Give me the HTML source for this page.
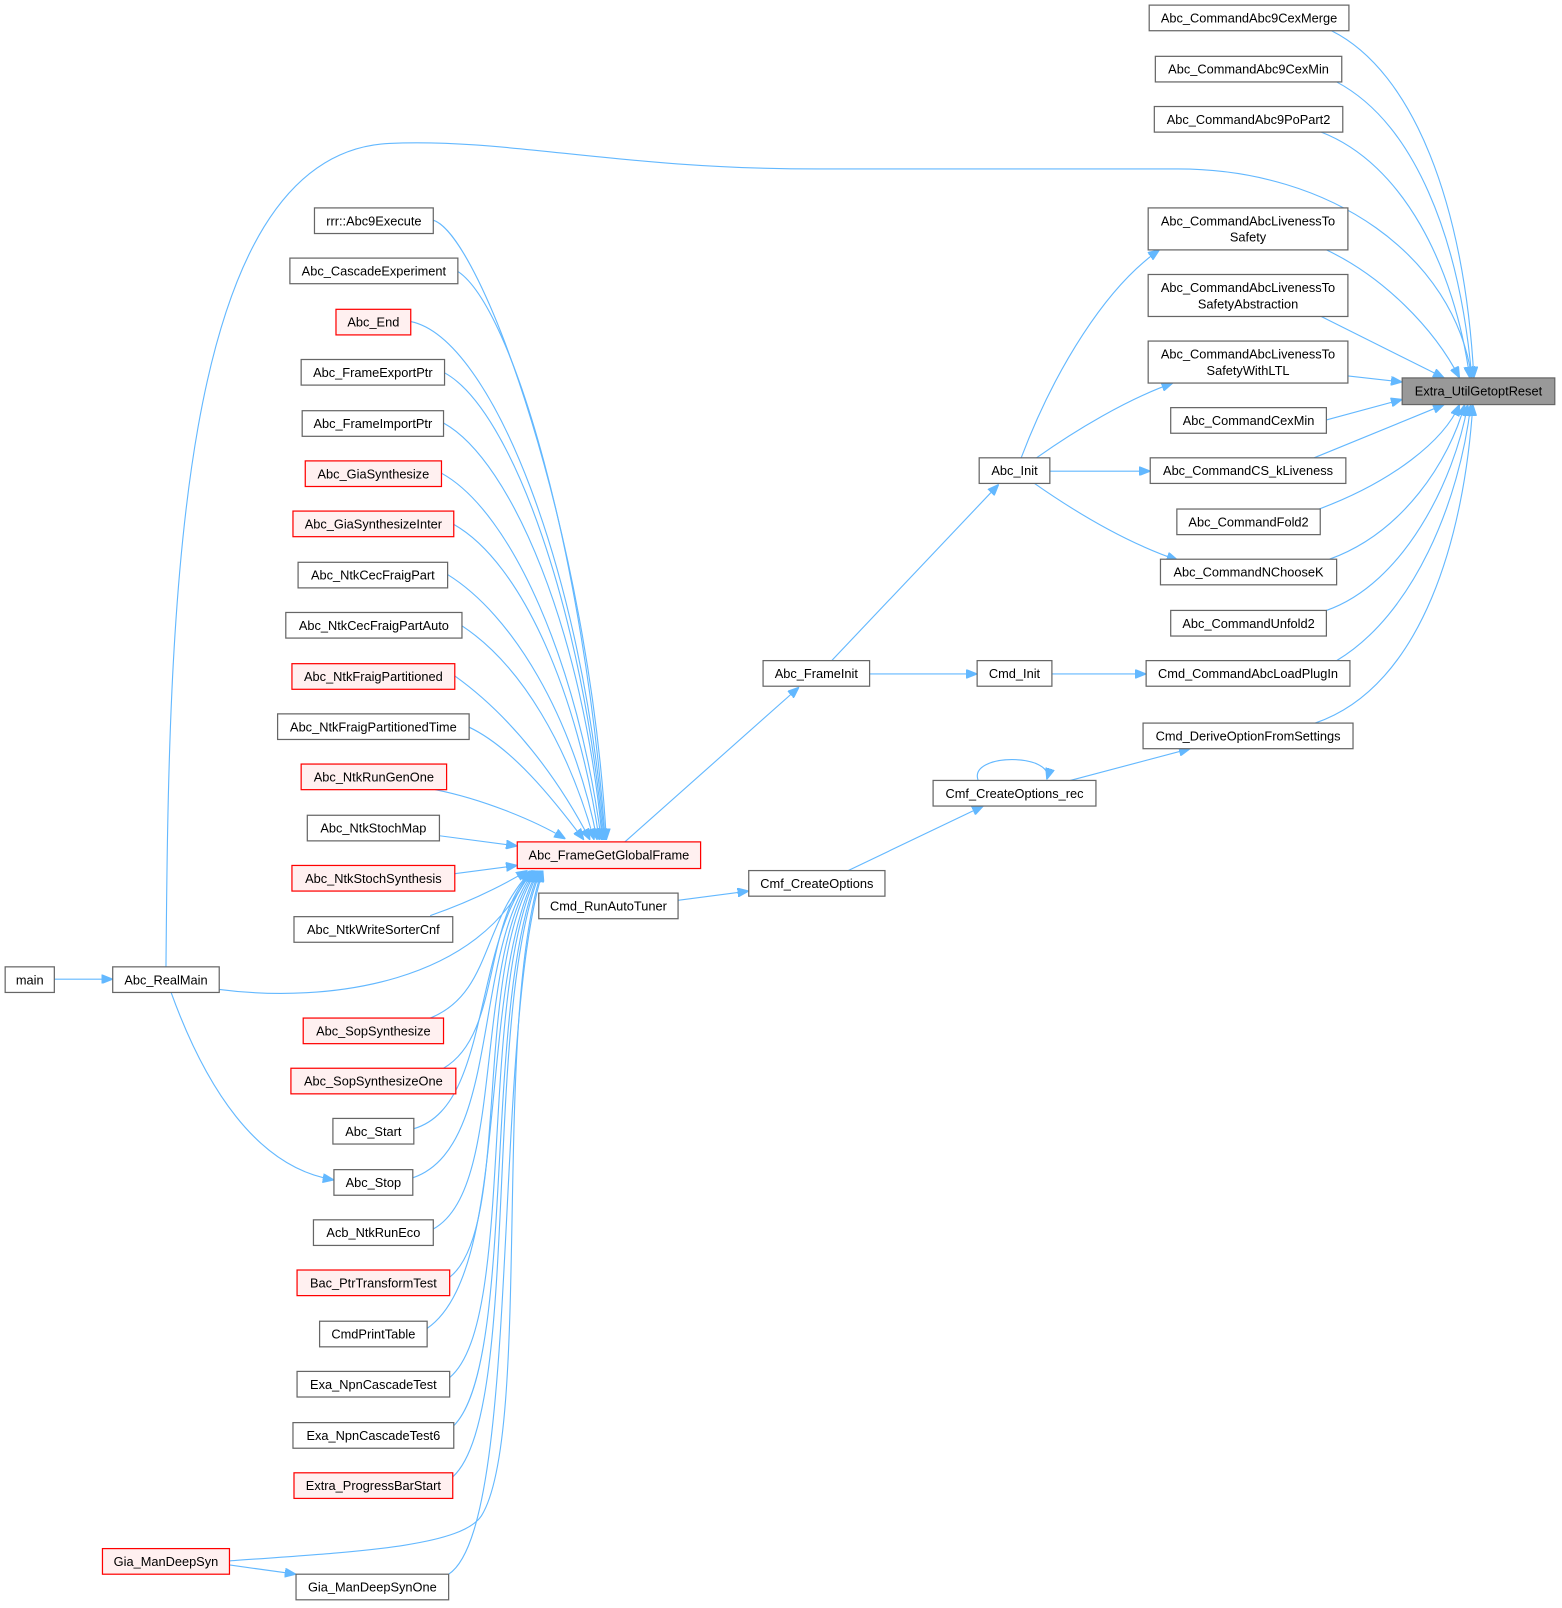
<!DOCTYPE html>
<html><head><meta charset="utf-8"><style>
html,body{margin:0;padding:0;background:#fff;}
svg{display:block;}
text{font-family:"Liberation Sans",Arial,sans-serif;font-size:12.5px;fill:#000;}
.n{fill:#fff;stroke:#666;stroke-width:1.2;}
.r{fill:#fff0f0;stroke:#ff0000;stroke-width:1.2;}
.g{fill:#999;stroke:#666;stroke-width:1.2;}
.e{fill:none;stroke:#63b8ff;stroke-width:1.1;marker-end:url(#a);}
</style></head><body>
<svg width="1562" height="1608" viewBox="0 0 1525 1570" xmlns="http://www.w3.org/2000/svg">
<defs><marker id="a" viewBox="0 0 10 8" refX="10" refY="4" markerWidth="11" markerHeight="9" markerUnits="userSpaceOnUse" orient="auto"><path d="M0,0 L10,4 L0,8 z" fill="#63b8ff" stroke="#63b8ff"/></marker></defs>

<!-- edges: left column to GGF (upper) -->
<path class="e" d="M423,215 C470,230 575,520 592,820"/>
<path class="e" d="M447,265 C500,300 570,540 591,820"/>
<path class="e" d="M401,314 C480,330 570,560 590,820"/>
<path class="e" d="M434,364 C500,400 570,600 589,820"/>
<path class="e" d="M433,413 C500,450 570,620 588,820"/>
<path class="e" d="M431,462 C500,500 565,650 587,820"/>
<path class="e" d="M443,512 C510,550 565,680 585,820"/>
<path class="e" d="M437,561 C500,600 560,700 583,820"/>
<path class="e" d="M451,611 C510,650 555,730 580,820"/>
<path class="e" d="M444,660 C500,700 545,760 576,820"/>
<path class="e" d="M458,710 C500,730 540,780 570,820"/>
<path class="e" d="M425,771 C470,780 520,800 552,819"/>
<path class="e" d="M429,816 L505,826"/>
<path class="e" d="M444,853 L505,845"/>
<path class="e" d="M420,894 C460,880 490,865 515,850"/>
<!-- lower -->
<path class="e" d="M214,966 C320,980 470,960 517,850"/>
<path class="e" d="M420,994 C480,970 470,900 519,850"/>
<path class="e" d="M433,1043 C490,1010 470,900 520,850"/>
<path class="e" d="M404,1102 C480,1080 460,920 521,850"/>
<path class="e" d="M403,1150 C490,1120 460,930 522,850"/>
<path class="e" d="M423,1200 C495,1160 460,940 523,850"/>
<path class="e" d="M439,1247 C500,1200 460,950 524,850"/>
<path class="e" d="M417,1297 C500,1240 465,960 525,850"/>
<path class="e" d="M439,1345 C505,1290 465,970 526,850"/>
<path class="e" d="M443,1392 C505,1330 470,980 527,850"/>
<path class="e" d="M442,1442 C510,1380 470,990 528,850"/>
<path class="e" d="M224,1524 C350,1515 450,1510 470,1480 C520,1400 480,1000 529,850"/>
<path class="e" d="M438,1537 C510,1490 480,1010 530,850"/>
<!-- realmain -->
<path class="e" d="M162,944 C165,600 170,150 380,140 C500,135 600,165 800,165 L1150,165 C1300,165 1420,250 1437,369"/>
<path class="e" d="M53,956 L110,956"/>
<path class="e" d="M167,969 C200,1060 250,1140 326,1152"/>
<path class="e" d="M224,1528 L289,1537"/>
<!-- middle -->
<path class="e" d="M610,822 L780,671"/>
<path class="e" d="M812,645 L975,473"/>
<path class="e" d="M849,658 L954,658"/>
<path class="e" d="M997,447 C1030,360 1080,280 1132,244"/>
<path class="e" d="M1012,447 C1050,420 1100,390 1145,374"/>
<path class="e" d="M1025,460 L1123,460"/>
<path class="e" d="M1010,472 C1050,500 1100,530 1150,547"/>
<path class="e" d="M1027,658 L1119,658"/>
<path class="e" d="M662,879 L731,870"/>
<path class="e" d="M828,850 L960,787"/>
<path class="e" d="M955,762 C945,735 1030,735 1022,761"/>
<path class="e" d="M1045,762 L1162,731"/>
<!-- right to Extra -->
<path class="e" d="M1300,30 C1380,70 1430,200 1439,369"/>
<path class="e" d="M1305,80 C1380,120 1425,230 1437,369"/>
<path class="e" d="M1290,129 C1370,160 1420,260 1435,369"/>
<path class="e" d="M1295,244 C1350,270 1400,320 1425,369"/>
<path class="e" d="M1290,309 L1410,369"/>
<path class="e" d="M1316,367 L1369,373"/>
<path class="e" d="M1295,410 L1369,390"/>
<path class="e" d="M1283,447 L1410,395"/>
<path class="e" d="M1288,497 C1360,470 1410,430 1425,395"/>
<path class="e" d="M1298,546 C1370,520 1415,450 1430,395"/>
<path class="e" d="M1295,596 C1370,570 1420,470 1433,395"/>
<path class="e" d="M1305,645 C1380,600 1425,490 1436,395"/>
<path class="e" d="M1284,706 C1390,670 1430,520 1438,395"/>

<!-- nodes -->
<g>
<rect class="n" x="1122" y="5" width="195" height="25"/><text x="1219.5" y="22" text-anchor="middle">Abc_CommandAbc9CexMerge</text>
<rect class="n" x="1128" y="55" width="182" height="25"/><text x="1219" y="72" text-anchor="middle">Abc_CommandAbc9CexMin</text>
<rect class="n" x="1127" y="104" width="184" height="25"/><text x="1219" y="121" text-anchor="middle">Abc_CommandAbc9PoPart2</text>
<rect class="n" x="1121" y="203" width="195" height="41"/><text x="1218.5" y="220" text-anchor="middle">Abc_CommandAbcLivenessTo</text><text x="1218.5" y="236" text-anchor="middle">Safety</text>
<rect class="n" x="1121" y="268" width="195" height="41"/><text x="1218.5" y="285" text-anchor="middle">Abc_CommandAbcLivenessTo</text><text x="1218.5" y="301" text-anchor="middle">SafetyAbstraction</text>
<rect class="n" x="1121" y="333" width="195" height="41"/><text x="1218.5" y="350" text-anchor="middle">Abc_CommandAbcLivenessTo</text><text x="1218.5" y="366" text-anchor="middle">SafetyWithLTL</text>
<rect class="n" x="1143" y="398" width="152" height="25"/><text x="1219" y="415" text-anchor="middle">Abc_CommandCexMin</text>
<rect class="n" x="1123" y="447" width="191" height="25"/><text x="1218.5" y="464" text-anchor="middle">Abc_CommandCS_kLiveness</text>
<rect class="n" x="1149" y="497" width="140" height="25"/><text x="1219" y="514" text-anchor="middle">Abc_CommandFold2</text>
<rect class="n" x="1133" y="546" width="172" height="25"/><text x="1219" y="563" text-anchor="middle">Abc_CommandNChooseK</text>
<rect class="n" x="1143" y="596" width="152" height="25"/><text x="1219" y="613" text-anchor="middle">Abc_CommandUnfold2</text>
<rect class="n" x="1119" y="645" width="199" height="25"/><text x="1218.5" y="662" text-anchor="middle">Cmd_CommandAbcLoadPlugIn</text>
<rect class="n" x="1116" y="706" width="205" height="25"/><text x="1218.5" y="723" text-anchor="middle">Cmd_DeriveOptionFromSettings</text>
<rect class="g" x="1369" y="369" width="149" height="26"/><text x="1443.5" y="386" text-anchor="middle">Extra_UtilGetoptReset</text>

<rect class="n" x="956" y="447" width="69" height="25"/><text x="990.5" y="464" text-anchor="middle">Abc_Init</text>
<rect class="n" x="954" y="645" width="73" height="25"/><text x="990.5" y="662" text-anchor="middle">Cmd_Init</text>
<rect class="n" x="745" y="645" width="104" height="25"/><text x="797" y="662" text-anchor="middle">Abc_FrameInit</text>
<rect class="n" x="911" y="762" width="159" height="25"/><text x="990.5" y="779" text-anchor="middle">Cmf_CreateOptions_rec</text>
<rect class="n" x="731" y="850" width="133" height="25"/><text x="797.5" y="867" text-anchor="middle">Cmf_CreateOptions</text>
<rect class="n" x="526" y="872" width="136" height="25"/><text x="594" y="889" text-anchor="middle">Cmd_RunAutoTuner</text>
<rect class="r" x="505" y="822" width="179" height="26"/><text x="594.5" y="839" text-anchor="middle">Abc_FrameGetGlobalFrame</text>

<rect class="n" x="5" y="944" width="48" height="25"/><text x="29" y="961" text-anchor="middle">main</text>
<rect class="n" x="110" y="944" width="104" height="25"/><text x="162" y="961" text-anchor="middle">Abc_RealMain</text>
<rect class="r" x="100" y="1512" width="124" height="25"/><text x="162" y="1529" text-anchor="middle">Gia_ManDeepSyn</text>

<rect class="n" x="307" y="203" width="116" height="25"/><text x="365" y="220" text-anchor="middle">rrr::Abc9Execute</text>
<rect class="n" x="283" y="252" width="164" height="25"/><text x="365" y="269" text-anchor="middle">Abc_CascadeExperiment</text>
<rect class="r" x="328" y="302" width="73" height="25"/><text x="364.5" y="319" text-anchor="middle">Abc_End</text>
<rect class="n" x="294" y="351" width="140" height="25"/><text x="364" y="368" text-anchor="middle">Abc_FrameExportPtr</text>
<rect class="n" x="295" y="401" width="138" height="25"/><text x="364" y="418" text-anchor="middle">Abc_FrameImportPtr</text>
<rect class="r" x="298" y="450" width="133" height="25"/><text x="364.5" y="467" text-anchor="middle">Abc_GiaSynthesize</text>
<rect class="r" x="286" y="499" width="157" height="25"/><text x="364.5" y="516" text-anchor="middle">Abc_GiaSynthesizeInter</text>
<rect class="n" x="291" y="549" width="146" height="25"/><text x="364" y="566" text-anchor="middle">Abc_NtkCecFraigPart</text>
<rect class="n" x="279" y="598" width="172" height="25"/><text x="365" y="615" text-anchor="middle">Abc_NtkCecFraigPartAuto</text>
<rect class="r" x="285" y="648" width="159" height="25"/><text x="364.5" y="665" text-anchor="middle">Abc_NtkFraigPartitioned</text>
<rect class="n" x="271" y="697" width="187" height="25"/><text x="364.5" y="714" text-anchor="middle">Abc_NtkFraigPartitionedTime</text>
<rect class="r" x="294" y="746" width="142" height="25"/><text x="365" y="763" text-anchor="middle">Abc_NtkRunGenOne</text>
<rect class="n" x="300" y="796" width="129" height="25"/><text x="364.5" y="813" text-anchor="middle">Abc_NtkStochMap</text>
<rect class="r" x="285" y="845" width="159" height="25"/><text x="364.5" y="862" text-anchor="middle">Abc_NtkStochSynthesis</text>
<rect class="n" x="287" y="895" width="155" height="25"/><text x="364.5" y="912" text-anchor="middle">Abc_NtkWriteSorterCnf</text>
<rect class="r" x="296" y="994" width="137" height="25"/><text x="364.5" y="1011" text-anchor="middle">Abc_SopSynthesize</text>
<rect class="r" x="284" y="1043" width="161" height="25"/><text x="364.5" y="1060" text-anchor="middle">Abc_SopSynthesizeOne</text>
<rect class="n" x="325" y="1092" width="79" height="25"/><text x="364.5" y="1109" text-anchor="middle">Abc_Start</text>
<rect class="n" x="326" y="1142" width="77" height="25"/><text x="364.5" y="1159" text-anchor="middle">Abc_Stop</text>
<rect class="n" x="306" y="1191" width="117" height="25"/><text x="364.5" y="1208" text-anchor="middle">Acb_NtkRunEco</text>
<rect class="r" x="290" y="1240" width="149" height="25"/><text x="364.5" y="1257" text-anchor="middle">Bac_PtrTransformTest</text>
<rect class="n" x="312" y="1290" width="105" height="25"/><text x="364.5" y="1307" text-anchor="middle">CmdPrintTable</text>
<rect class="n" x="290" y="1339" width="149" height="25"/><text x="364.5" y="1356" text-anchor="middle">Exa_NpnCascadeTest</text>
<rect class="n" x="286" y="1389" width="157" height="25"/><text x="364.5" y="1406" text-anchor="middle">Exa_NpnCascadeTest6</text>
<rect class="r" x="287" y="1438" width="155" height="25"/><text x="364.5" y="1455" text-anchor="middle">Extra_ProgressBarStart</text>
<rect class="n" x="289" y="1537" width="149" height="25"/><text x="363.5" y="1554" text-anchor="middle">Gia_ManDeepSynOne</text>
</g>
</svg>
</body></html>
